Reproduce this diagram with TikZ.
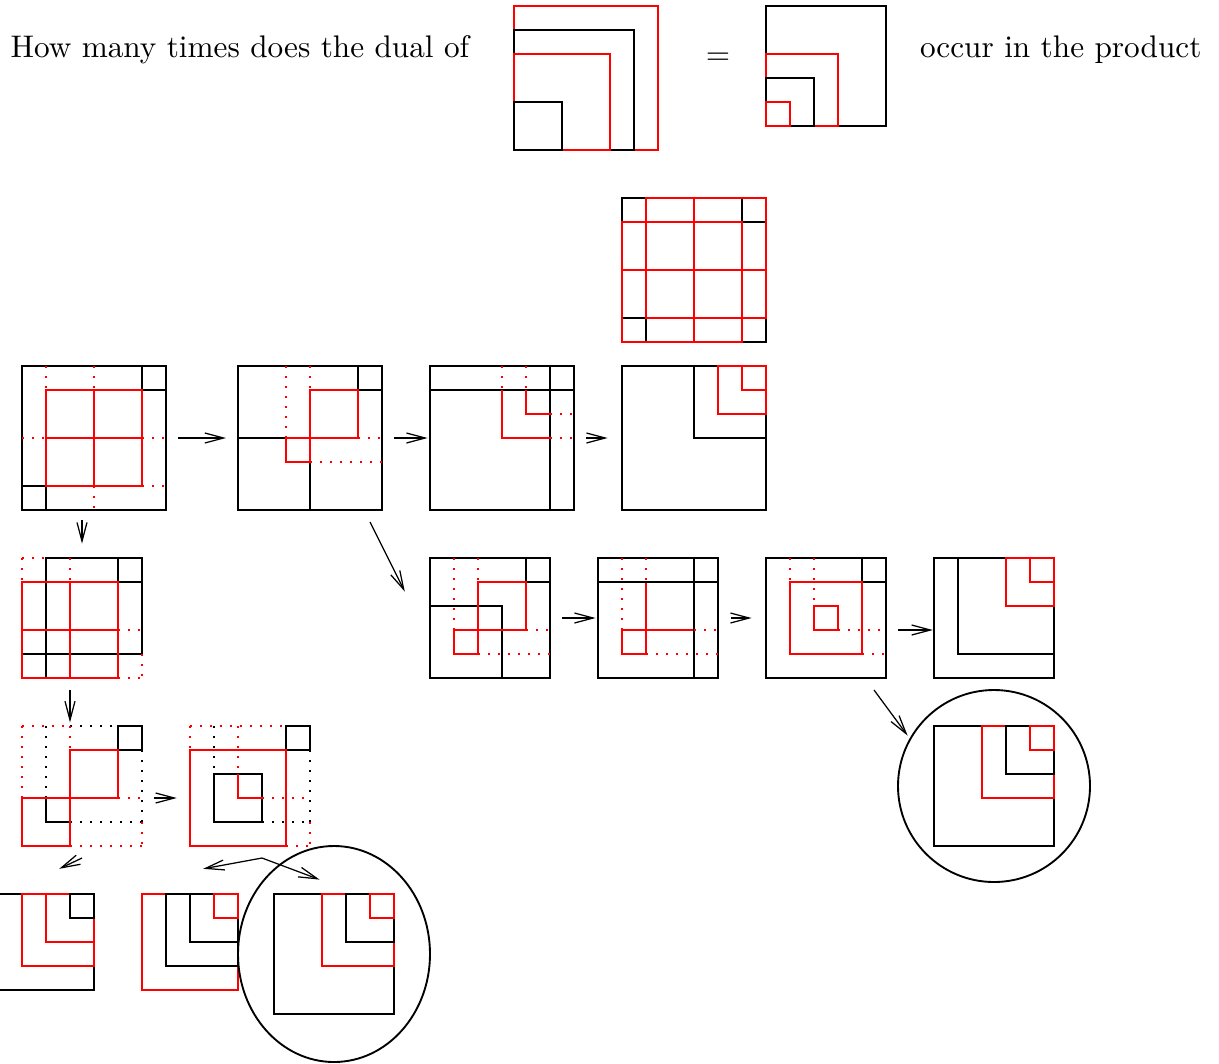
\documentclass[tikz,border=0pt]{standalone}
\usetikzlibrary{arrows.meta}

\begin{document}
\begin{tikzpicture}[x=7.68pt,y=-7.68pt,>={Straight Barb[length=6pt,width=3.2pt]},
  rd/.style={red},
  rdot/.style={red,dash pattern=on 0.6pt off 2.6pt},
  bdot/.style={black,dash pattern=on 0.6pt off 2.6pt},
  ring/.style={semithick}]
  \useasboundingbox (0.0833,-0.25) rectangle (50.875,44.0417);

  \node[anchor=base west,inner sep=0pt] (ask) at (0.5,2.15) {How many times does the dual of};
  \node[inner sep=0pt] (eq) at (30,2.2) {$=$};
  \node[anchor=base east,inner sep=0pt] (prod) at (50.17,2.15) {occur in the product};

  \begin{scope}[shift={(21.5,0)}]
    \draw[rd] (0,0) rectangle (6,6);
    \draw (0,1) rectangle (5,6);
    \draw[rd] (0,2) rectangle (4,6);
    \draw (0,4) rectangle (2,6);
  \end{scope}
  \begin{scope}[shift={(32,0)}]
    \draw (0,0) rectangle (5,5);
    \draw[rd] (0,2) rectangle (3,5);
    \draw (0,3) rectangle (2,5);
    \draw[rd] (0,4) rectangle (1,5);
  \end{scope}

  \begin{scope}[shift={(26,8)}]
    \draw (0,0) rectangle (6,6) (5,0) rectangle (6,1) (0,5) rectangle (1,6);
    \draw[rd] (0,1) rectangle (5,6) (1,0) rectangle (6,5) (3,0) -- (3,6) (0,3) -- (6,3);
  \end{scope}

  \begin{scope}[shift={(1,15)}]
    \draw (0,0) rectangle (6,6) (5,0) rectangle (6,1) (0,5) rectangle (1,6);
    \draw[rd] (1,1) rectangle (5,5) (3,1) -- (3,5) (1,3) -- (5,3);
    \draw[rdot] (1,0) -- (1,1) (3,0) -- (3,1) (3,5) -- (3,6)
      (0,3) -- (1,3) (5,3) -- (6,3) (5,5) -- (6,5);
  \end{scope}
  \begin{scope}[shift={(10,15)}]
    \draw (0,0) rectangle (6,6) (5,0) rectangle (6,1) (0,3) rectangle (3,6);
    \draw[rd] (3,1) rectangle (5,3) (2,3) rectangle (3,4);
    \draw[rdot] (2,0) -- (2,3) (3,0) -- (3,1) (5,3) -- (6,3) (3,4) -- (6,4);
  \end{scope}
  \begin{scope}[shift={(18,15)}]
    \draw (0,0) rectangle (6,6) (0,1) -- (6,1) (5,0) -- (5,6);
    \draw[rd] (3,1) -- (3,3) -- (5,3) (4,1) -- (4,2) -- (5,2);
    \draw[rdot] (3,0) -- (3,1) (4,0) -- (4,1) (5,3) -- (6,3) (5,2) -- (6,2);
  \end{scope}
  \begin{scope}[shift={(26,15)}]
    \draw (0,0) rectangle (6,6) (3,0) rectangle (6,3);
    \draw[rd] (4,0) rectangle (6,2) (5,0) rectangle (6,1);
  \end{scope}

  \begin{scope}[shift={(18,23)}]
    \draw (0,0) rectangle (5,5) (4,0) rectangle (5,1) (0,2) rectangle (3,5);
    \draw[rd] (2,1) rectangle (4,3) (1,3) rectangle (2,4);
    \draw[rdot] (1,0) -- (1,3) (2,0) -- (2,1) (4,3) -- (5,3) (2,4) -- (5,4);
  \end{scope}
  \begin{scope}[shift={(25,23)}]
    \draw[rd] (2,1) rectangle (4,3) (1,3) rectangle (2,4);
    \draw (0,0) rectangle (5,5) (0,1) -- (5,1) (4,0) -- (4,5);
    \draw[rdot] (1,0) -- (1,3) (2,0) -- (2,1) (4,3) -- (5,3) (2,4) -- (5,4);
  \end{scope}
  \begin{scope}[shift={(32,23)}]
    \draw (0,0) rectangle (5,5) (4,0) rectangle (5,1);
    \draw[rd] (1,1) rectangle (4,4) (2,2) rectangle (3,3);
    \draw[rdot] (1,0) -- (1,1) (2,0) -- (2,2) (3,3) -- (5,3) (4,4) -- (5,4);
  \end{scope}
  \begin{scope}[shift={(39,23)}]
    \draw (0,0) rectangle (5,5) (1,0) rectangle (5,4);
    \draw[rd] (3,0) rectangle (5,2) (4,0) rectangle (5,1);
  \end{scope}

  \begin{scope}[shift={(39,30)}]
    \draw (0,0) rectangle (5,5);
    \draw[rd] (2,0) rectangle (5,3);
    \draw (3,0) rectangle (5,2);
    \draw[rd] (4,0) rectangle (5,1);
  \end{scope}
  \draw[ring] (41.5,32.5) circle[radius=4];

  \begin{scope}[shift={(1,23)}]
    \draw (1,0) rectangle (5,4) (4,0) rectangle (5,1) (0,4) rectangle (1,5);
    \draw[rd] (0,1) rectangle (4,5) (2,1) -- (2,5) (0,3) -- (4,3);
    \draw[rdot] (0,0) -- (1,0) (0,0) -- (0,1) (2,0) -- (2,1)
      (4,3) -- (5,3) (4,5) -- (5,5) (5,4) -- (5,5);
  \end{scope}
  \begin{scope}[shift={(1,30)}]
    \draw (4,0) rectangle (5,1) (1,3) rectangle (2,4);
    \draw[bdot] (2,0) -- (4,0) (1,0) -- (1,3) (2,4) -- (5,4) (5,1) -- (5,4);
    \draw[rd] (0,3) -- (4,3) -- (4,1) -- (2,1) -- (2,5) -- (0,5) -- cycle;
    \draw[rdot] (0,0) -- (0,3) (0,0) -- (2,0) (2,0) -- (2,1)
      (4,3) -- (5,3) (2,5) -- (5,5) (5,4) -- (5,5);
  \end{scope}
  \begin{scope}[shift={(8,30)}]
    \draw (4,0) rectangle (5,1) (1,2) rectangle (3,4);
    \draw[bdot] (1,0) -- (1,2) (3,4) -- (5,4) (5,1) -- (5,4);
    \draw[rd] (0,1) rectangle (4,5) (2,2) -- (2,3) -- (3,3);
    \draw[rdot] (0,0) -- (4,0) (0,0) -- (0,1) (2,0) -- (2,2)
      (3,3) -- (5,3) (4,5) -- (5,5) (5,4) -- (5,5);
  \end{scope}

  \begin{scope}[shift={(0,37)}]
    \draw (0,0) rectangle (4,4);
    \draw[rd] (1,0) rectangle (4,3) (2,0) rectangle (4,2);
    \draw (3,0) rectangle (4,1);
  \end{scope}
  \begin{scope}[shift={(6,37)}]
    \draw[rd] (0,0) rectangle (4,4);
    \draw (1,0) rectangle (4,3) (2,0) rectangle (4,2);
    \draw[rd] (3,0) rectangle (4,1);
  \end{scope}
  \begin{scope}[shift={(11.5,37)}]
    \draw (0,0) rectangle (5,5);
    \draw[rd] (2,0) rectangle (5,3);
    \draw (3,0) rectangle (5,2);
    \draw[rd] (4,0) rectangle (5,1);
  \end{scope}
  \draw[ring] (14,39.5) ellipse[x radius=4,y radius=4.5];

  \coordinate (a1) at (7.5,18);     \coordinate (b1) at (9.5,18);
  \coordinate (a2) at (16.5,18);    \coordinate (b2) at (17.9,18);
  \coordinate (a3) at (24.5,18);    \coordinate (b3) at (25.4,18);
  \coordinate (a4) at (3.5,21.4);   \coordinate (b4) at (3.5,22.4);
  \coordinate (a5) at (15.5,21.5);  \coordinate (b5) at (16.95,24.4);
  \coordinate (a6) at (23.5,25.5);  \coordinate (b6) at (24.9,25.5);
  \coordinate (a7) at (30.55,25.5); \coordinate (b7) at (31.4,25.5);
  \coordinate (a8) at (37.5,26);    \coordinate (b8) at (38.95,26);
  \coordinate (a9) at (36.5,28.5);  \coordinate (b9) at (37.9,30.4);
  \coordinate (a10) at (3,28.5);    \coordinate (b10) at (3,29.85);
  \coordinate (a11) at (6.5,33);    \coordinate (b11) at (7.45,33);
  \coordinate (a12) at (3.5,35.5);  \coordinate (b12) at (2.55,35.95);
  \coordinate (fork) at (11,35.5);
  \coordinate (fl) at (8.55,35.95); \coordinate (fr) at (13.4,36.4);
  \foreach \i in {1,...,12} \draw[->] (a\i) -- (b\i);
  \draw[->] (fork) -- (fl);
  \draw[->] (fork) -- (fr);
\end{tikzpicture}
\end{document}
